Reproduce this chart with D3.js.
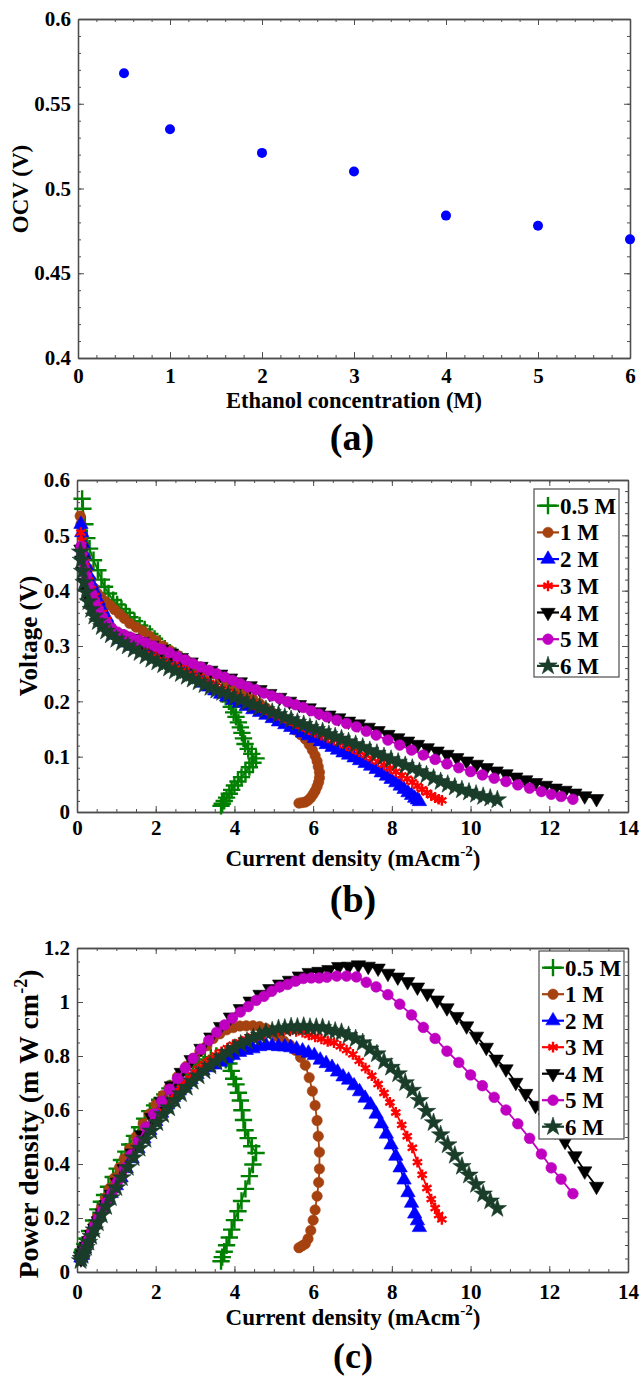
<!DOCTYPE html>
<html>
<head>
<meta charset="utf-8">
<script src="https://cdn.jsdelivr.net/npm/d3@7"></script>
<style>
  body { margin: 0; background: #fff; }
</style>
</head>
<body>
<script>
// ---------- data ----------

// (a) open circuit voltage vs ethanol concentration
var ethanolConc = [0.5, 1, 2, 3, 4, 5, 6];
var ocv = [0.568, 0.535, 0.521, 0.510, 0.484, 0.478, 0.470];

var seriesNames = ["0.5 M", "1 M", "2 M", "3 M", "4 M", "5 M", "6 M"];

// current density (mA cm-2), voltage (V), power density (mW cm-2) for every concentration
var current05 = [0.13,0.15,0.2,0.25,0.32,0.42,0.53,0.62,0.7,0.8,0.92,1.02,1.13,1.24,1.34,1.46,1.59,1.72,1.85,1.97,2.1,2.23,2.36,2.5,2.65,2.8,2.95,3.1,3.25,3.4,3.54,3.68,3.78,3.86,3.92,3.98,4.04,4.1,4.15,4.19,4.23,4.27,4.35,4.44,4.55,4.47,4.38,4.28,4.18,4.09,4.0,3.93,3.87,3.8,3.74,3.69,3.66];
var voltage05 = [0.566,0.548,0.52,0.495,0.476,0.455,0.437,0.42,0.407,0.395,0.383,0.375,0.367,0.36,0.352,0.345,0.337,0.33,0.322,0.313,0.304,0.295,0.288,0.282,0.275,0.267,0.259,0.25,0.242,0.234,0.226,0.216,0.208,0.2,0.19,0.18,0.172,0.162,0.153,0.143,0.133,0.123,0.114,0.105,0.097,0.089,0.081,0.072,0.063,0.055,0.048,0.04,0.033,0.026,0.02,0.015,0.011];
var power05 = [0.074,0.082,0.104,0.124,0.152,0.191,0.232,0.26,0.285,0.316,0.352,0.383,0.415,0.446,0.472,0.504,0.536,0.568,0.596,0.617,0.638,0.658,0.68,0.705,0.729,0.748,0.764,0.775,0.787,0.796,0.8,0.795,0.786,0.772,0.745,0.716,0.695,0.664,0.635,0.599,0.563,0.525,0.496,0.466,0.441,0.398,0.355,0.308,0.263,0.225,0.192,0.157,0.128,0.099,0.075,0.055,0.04];

var current1 = [0.08,0.1,0.13,0.17,0.22,0.28,0.35,0.43,0.52,0.62,0.72,0.83,0.95,1.08,1.2,1.34,1.5,1.68,1.84,2.0,2.18,2.36,2.56,2.78,2.95,3.12,3.3,3.46,3.63,3.8,3.97,4.14,4.3,4.47,4.64,4.8,4.95,5.1,5.25,5.4,5.55,5.68,5.8,5.9,5.98,6.05,6.1,6.13,6.16,6.16,6.14,6.1,6.05,6.0,5.94,5.87,5.8,5.72,5.64];
var voltage1 = [0.535,0.52,0.5,0.48,0.46,0.44,0.42,0.405,0.395,0.387,0.38,0.374,0.366,0.358,0.35,0.341,0.334,0.327,0.318,0.31,0.3,0.292,0.283,0.274,0.268,0.262,0.254,0.25,0.243,0.236,0.228,0.22,0.212,0.204,0.196,0.188,0.18,0.171,0.163,0.156,0.148,0.14,0.132,0.122,0.112,0.102,0.092,0.082,0.072,0.062,0.054,0.046,0.038,0.032,0.026,0.021,0.018,0.017,0.016];
var power1 = [0.043,0.052,0.065,0.082,0.101,0.123,0.147,0.174,0.205,0.24,0.274,0.31,0.348,0.387,0.42,0.457,0.501,0.549,0.585,0.62,0.654,0.689,0.724,0.762,0.791,0.817,0.838,0.865,0.882,0.897,0.905,0.911,0.912,0.912,0.909,0.902,0.891,0.872,0.856,0.842,0.821,0.795,0.766,0.72,0.67,0.617,0.561,0.503,0.444,0.382,0.332,0.281,0.23,0.192,0.154,0.123,0.104,0.097,0.09];

var current2 = [0.1,0.12,0.15,0.19,0.24,0.3,0.37,0.45,0.54,0.64,0.75,0.87,1.0,1.12,1.25,1.4,1.55,1.7,1.85,2.0,2.15,2.3,2.45,2.6,2.75,2.9,3.05,3.2,3.35,3.5,3.65,3.8,3.97,4.13,4.3,4.47,4.64,4.8,4.96,5.12,5.28,5.43,5.58,5.73,5.88,6.03,6.18,6.33,6.48,6.62,6.76,6.9,7.04,7.18,7.32,7.46,7.6,7.73,7.86,7.98,8.1,8.21,8.31,8.41,8.5,8.58,8.65,8.7];
var voltage2 = [0.52,0.505,0.485,0.465,0.445,0.428,0.412,0.398,0.382,0.366,0.352,0.335,0.32,0.312,0.306,0.3,0.295,0.29,0.284,0.279,0.274,0.269,0.264,0.258,0.252,0.246,0.24,0.233,0.226,0.219,0.213,0.208,0.202,0.197,0.191,0.185,0.18,0.175,0.169,0.163,0.158,0.153,0.148,0.143,0.138,0.133,0.127,0.122,0.117,0.112,0.107,0.103,0.098,0.093,0.088,0.083,0.077,0.071,0.065,0.059,0.053,0.047,0.041,0.035,0.03,0.025,0.022,0.019];
var power2 = [0.052,0.061,0.073,0.088,0.107,0.128,0.152,0.179,0.206,0.234,0.264,0.291,0.32,0.349,0.383,0.42,0.457,0.493,0.525,0.558,0.589,0.619,0.647,0.671,0.693,0.713,0.732,0.746,0.757,0.767,0.777,0.79,0.802,0.814,0.821,0.827,0.835,0.84,0.838,0.835,0.834,0.831,0.826,0.819,0.811,0.802,0.785,0.772,0.758,0.741,0.723,0.711,0.69,0.668,0.644,0.619,0.585,0.549,0.511,0.471,0.429,0.386,0.341,0.294,0.255,0.215,0.19,0.165];

var current3 = [0.1,0.12,0.15,0.19,0.24,0.3,0.37,0.45,0.54,0.64,0.75,0.87,1.0,1.13,1.27,1.42,1.57,1.72,1.87,2.02,2.17,2.32,2.47,2.62,2.77,2.92,3.07,3.22,3.37,3.52,3.67,3.82,3.97,4.13,4.29,4.45,4.61,4.77,4.93,5.09,5.25,5.41,5.57,5.73,5.89,6.05,6.21,6.37,6.53,6.69,6.85,7.01,7.17,7.33,7.49,7.65,7.8,7.95,8.1,8.25,8.39,8.52,8.65,8.77,8.89,9.0,9.1,9.19,9.27];
var voltage3 = [0.505,0.49,0.47,0.452,0.435,0.418,0.403,0.39,0.375,0.36,0.347,0.333,0.32,0.313,0.307,0.301,0.296,0.291,0.286,0.281,0.276,0.271,0.266,0.261,0.256,0.25,0.245,0.239,0.233,0.228,0.222,0.217,0.212,0.206,0.201,0.196,0.19,0.185,0.18,0.175,0.17,0.165,0.16,0.155,0.149,0.144,0.139,0.134,0.13,0.125,0.12,0.115,0.109,0.103,0.097,0.091,0.085,0.079,0.073,0.066,0.06,0.054,0.047,0.041,0.035,0.03,0.026,0.023,0.021];
var power3 = [0.051,0.059,0.071,0.086,0.104,0.125,0.149,0.176,0.203,0.23,0.26,0.29,0.32,0.354,0.39,0.427,0.465,0.501,0.535,0.568,0.599,0.629,0.657,0.684,0.709,0.73,0.752,0.77,0.785,0.803,0.815,0.829,0.842,0.851,0.862,0.872,0.876,0.882,0.887,0.891,0.893,0.893,0.891,0.888,0.878,0.871,0.863,0.854,0.849,0.836,0.822,0.806,0.782,0.755,0.727,0.696,0.663,0.628,0.591,0.545,0.503,0.46,0.407,0.36,0.311,0.27,0.237,0.211,0.195];

var current4 = [0.1,0.12,0.15,0.19,0.24,0.3,0.37,0.45,0.54,0.64,0.75,0.88,1.03,1.2,1.4,1.65,1.9,2.15,2.4,2.65,2.9,3.15,3.4,3.65,3.9,4.15,4.4,4.65,4.9,5.15,5.4,5.65,5.9,6.15,6.4,6.65,6.9,7.15,7.4,7.65,7.9,8.15,8.4,8.65,8.9,9.15,9.4,9.65,9.9,10.15,10.4,10.65,10.9,11.15,11.4,11.65,11.9,12.15,12.4,12.65,12.9,13.2];
var voltage4 = [0.475,0.455,0.435,0.415,0.398,0.385,0.372,0.36,0.35,0.34,0.332,0.326,0.322,0.318,0.314,0.308,0.301,0.294,0.287,0.279,0.271,0.263,0.256,0.249,0.242,0.235,0.228,0.221,0.214,0.207,0.2,0.194,0.188,0.181,0.175,0.17,0.164,0.159,0.153,0.147,0.14,0.134,0.128,0.122,0.116,0.11,0.104,0.098,0.092,0.086,0.08,0.074,0.069,0.063,0.058,0.053,0.048,0.043,0.039,0.034,0.029,0.024];
var power4 = [0.048,0.055,0.065,0.079,0.096,0.116,0.138,0.162,0.189,0.218,0.249,0.287,0.332,0.382,0.44,0.508,0.572,0.632,0.689,0.739,0.786,0.828,0.87,0.909,0.944,0.975,1.003,1.028,1.049,1.066,1.08,1.096,1.109,1.113,1.12,1.131,1.132,1.137,1.132,1.125,1.106,1.092,1.075,1.055,1.032,1.007,0.978,0.946,0.911,0.873,0.832,0.788,0.752,0.702,0.661,0.617,0.571,0.522,0.484,0.43,0.374,0.317];

var current5 = [0.1,0.12,0.15,0.19,0.24,0.3,0.37,0.45,0.54,0.64,0.75,0.88,1.03,1.2,1.38,1.56,1.75,1.95,2.15,2.35,2.55,2.75,2.95,3.15,3.35,3.55,3.75,3.95,4.15,4.35,4.55,4.75,4.95,5.15,5.35,5.55,5.75,5.95,6.15,6.35,6.6,6.85,7.1,7.35,7.6,7.9,8.2,8.5,8.8,9.1,9.4,9.7,10.0,10.3,10.6,10.9,11.2,11.5,11.8,12.05,12.3,12.6];
var voltage5 = [0.48,0.468,0.455,0.44,0.425,0.41,0.395,0.38,0.366,0.353,0.342,0.332,0.325,0.32,0.315,0.311,0.306,0.3,0.294,0.288,0.281,0.275,0.268,0.262,0.256,0.25,0.244,0.238,0.232,0.226,0.221,0.215,0.21,0.205,0.199,0.194,0.189,0.183,0.177,0.172,0.166,0.16,0.154,0.146,0.139,0.13,0.121,0.112,0.103,0.095,0.087,0.08,0.073,0.067,0.061,0.055,0.049,0.043,0.037,0.032,0.028,0.023];
var power5 = [0.048,0.056,0.068,0.084,0.102,0.123,0.146,0.171,0.198,0.226,0.257,0.292,0.335,0.384,0.435,0.485,0.536,0.585,0.632,0.677,0.717,0.756,0.791,0.825,0.858,0.888,0.915,0.94,0.963,0.983,1.006,1.021,1.04,1.056,1.065,1.077,1.087,1.089,1.089,1.092,1.096,1.096,1.093,1.073,1.056,1.027,0.992,0.952,0.906,0.865,0.818,0.776,0.73,0.69,0.647,0.6,0.549,0.495,0.437,0.386,0.344,0.29];

var current6 = [0.09,0.11,0.14,0.18,0.23,0.29,0.36,0.44,0.53,0.63,0.74,0.86,1.0,1.14,1.29,1.44,1.59,1.74,1.89,2.04,2.19,2.34,2.49,2.64,2.79,2.94,3.09,3.24,3.39,3.54,3.69,3.84,4.0,4.16,4.32,4.48,4.64,4.8,4.96,5.12,5.28,5.44,5.6,5.76,5.92,6.08,6.24,6.4,6.56,6.72,6.9,7.08,7.26,7.44,7.62,7.8,7.98,8.16,8.34,8.52,8.7,8.88,9.06,9.24,9.42,9.6,9.78,9.96,10.14,10.32,10.5,10.68];
var voltage6 = [0.47,0.455,0.435,0.415,0.397,0.38,0.366,0.354,0.344,0.335,0.327,0.32,0.312,0.306,0.3,0.294,0.288,0.282,0.276,0.271,0.266,0.26,0.255,0.25,0.245,0.24,0.235,0.23,0.225,0.22,0.216,0.212,0.207,0.203,0.198,0.194,0.189,0.185,0.18,0.176,0.171,0.167,0.162,0.158,0.153,0.149,0.145,0.14,0.136,0.132,0.127,0.122,0.117,0.111,0.106,0.1,0.095,0.09,0.084,0.079,0.073,0.067,0.061,0.055,0.05,0.045,0.04,0.036,0.032,0.028,0.025,0.022];
var power6 = [0.042,0.05,0.061,0.075,0.091,0.11,0.132,0.156,0.182,0.211,0.242,0.275,0.312,0.349,0.387,0.423,0.458,0.491,0.522,0.553,0.583,0.608,0.635,0.66,0.684,0.706,0.726,0.745,0.763,0.779,0.797,0.814,0.828,0.844,0.855,0.869,0.877,0.888,0.893,0.901,0.903,0.908,0.907,0.91,0.906,0.906,0.905,0.896,0.892,0.887,0.876,0.864,0.849,0.826,0.808,0.78,0.758,0.734,0.701,0.673,0.635,0.595,0.553,0.508,0.471,0.432,0.391,0.359,0.324,0.289,0.263,0.235];

// ---------- styles ----------
var fontFamily = '"Liberation Serif", "Times New Roman", Times, serif';
var frameColor = "#4d4d4d";

var seriesColors = ["#008000", "#a5420f", "#0000ff", "#ff0000", "#000000", "#c000c0", "#1a3d2a"];
var seriesSymbols = [d3.symbolPlus, d3.symbolCircle, d3.symbolTriangle, d3.symbolAsterisk, d3.symbolTriangle, d3.symbolCircle, d3.symbolStar];
var symbolSizes = [100, 85, 90, 80, 90, 90, 105];
var symbolRotation = [0, 0, 0, 0, 180, 0, 0];
var strokeSymbol = [true, false, false, true, false, false, false];

// build the series table used by panels (b) and (c)
var currents = [current05, current1, current2, current3, current4, current5, current6];
var voltages = [voltage05, voltage1, voltage2, voltage3, voltage4, voltage5, voltage6];
var powers = [power05, power1, power2, power3, power4, power5, power6];

var series = seriesNames.map(function(name, i) {
  return {
    name: name,
    color: seriesColors[i],
    symbol: seriesSymbols[i],
    size: symbolSizes[i],
    rotate: symbolRotation[i],
    stroked: strokeSymbol[i],
    vi: currents[i].map(function(c, k) { return [c, voltages[i][k]]; }),
    pi: currents[i].map(function(c, k) { return [c, powers[i][k]]; })
  };
});

var svg = d3.select("body").append("svg")
  .attr("width", 641)
  .attr("height", 1382)
  .style("font-family", fontFamily)
  .style("font-weight", "bold");

// styling for axis groups
function styleAxis(g) {
  g.attr("font-family", fontFamily)
    .attr("font-size", 21)
    .attr("font-weight", "bold");
  g.selectAll("path.domain").attr("stroke", frameColor).attr("stroke-width", 1.3);
  g.selectAll(".tick line").attr("stroke", frameColor).attr("stroke-width", 1);
  g.selectAll(".tick text").attr("fill", "#000");
}

// boxed frame with inward ticks on all four sides
function drawFrame(p) {
  var x = d3.scaleLinear().domain(p.xDomain).range([p.left, p.right]);
  var y = d3.scaleLinear().domain(p.yDomain).range([p.bottom, p.top]);
  var g = svg.append("g");

  // minor ticks
  g.append("g").attr("transform", `translate(0,${p.bottom})`)
    .call(d3.axisBottom(x).tickValues(p.xMinor).tickSizeInner(-3).tickSizeOuter(0).tickFormat(""))
    .call(styleAxis);
  g.append("g").attr("transform", `translate(0,${p.top})`)
    .call(d3.axisTop(x).tickValues(p.xMinor).tickSizeInner(-3).tickSizeOuter(0).tickFormat(""))
    .call(styleAxis);
  g.append("g").attr("transform", `translate(${p.left},0)`)
    .call(d3.axisLeft(y).tickValues(p.yMinor).tickSizeInner(-3).tickSizeOuter(0).tickFormat(""))
    .call(styleAxis);
  g.append("g").attr("transform", `translate(${p.right},0)`)
    .call(d3.axisRight(y).tickValues(p.yMinor).tickSizeInner(-3).tickSizeOuter(0).tickFormat(""))
    .call(styleAxis);

  // major ticks + labels
  g.append("g").attr("transform", `translate(0,${p.bottom})`)
    .call(d3.axisBottom(x).tickValues(p.xMajor).tickSizeInner(-6).tickSizeOuter(0).tickPadding(p.xPad).tickFormat(String))
    .call(styleAxis);
  g.append("g").attr("transform", `translate(0,${p.top})`)
    .call(d3.axisTop(x).tickValues(p.xMajor).tickSizeInner(-6).tickSizeOuter(0).tickFormat(""))
    .call(styleAxis);
  g.append("g").attr("transform", `translate(${p.left},0)`)
    .call(d3.axisLeft(y).tickValues(p.yMajor).tickSizeInner(-6).tickSizeOuter(0).tickPadding(7).tickFormat(String))
    .call(styleAxis);
  g.append("g").attr("transform", `translate(${p.right},0)`)
    .call(d3.axisRight(y).tickValues(p.yMajor).tickSizeInner(-6).tickSizeOuter(0).tickFormat(""))
    .call(styleAxis);

  return { x: x, y: y };
}

function symbolPath(s) {
  return d3.symbol().type(s.symbol).size(s.size)();
}

function drawSeries(sc, key) {
  series.forEach(function(s) {
    var pts = s[key];
    var g = svg.append("g");
    g.append("path")
      .datum(pts)
      .attr("fill", "none")
      .attr("stroke", s.color)
      .attr("stroke-width", 1.8)
      .attr("d", d3.line().x(function(d) { return sc.x(d[0]); }).y(function(d) { return sc.y(d[1]); }));
    g.selectAll("path.mark").data(pts).enter().append("path")
      .attr("class", "mark")
      .attr("d", symbolPath(s))
      .attr("transform", function(d) { return `translate(${sc.x(d[0])},${sc.y(d[1])}) rotate(${s.rotate})`; })
      .attr("fill", s.stroked ? "none" : s.color)
      .attr("stroke", s.color)
      .attr("stroke-width", s.stroked ? 2.4 : 0.6);
  });
}

function drawLegend(x0, y0, w, h, rowStart, rowStep) {
  var g = svg.append("g");
  g.append("rect")
    .attr("x", x0).attr("y", y0).attr("width", w).attr("height", h)
    .attr("fill", "#fff").attr("stroke", frameColor).attr("stroke-width", 1.2);
  series.forEach(function(s, i) {
    var cy = rowStart + i * rowStep;
    g.append("line")
      .attr("x1", x0 + 3).attr("x2", x0 + 25).attr("y1", cy).attr("y2", cy)
      .attr("stroke", s.color).attr("stroke-width", 2.2);
    g.append("path")
      .attr("d", symbolPath(s))
      .attr("transform", `translate(${x0 + 14},${cy}) rotate(${s.rotate})`)
      .attr("fill", s.stroked ? "none" : s.color)
      .attr("stroke", s.color)
      .attr("stroke-width", s.stroked ? 2.4 : 0.6);
    g.append("text")
      .attr("x", x0 + 26).attr("y", cy + 8)
      .attr("font-size", 23)
      .text(s.name);
  });
}

function xTitleWithSup(x, y, main, sup) {
  var t = svg.append("text").attr("x", x).attr("y", y)
    .attr("text-anchor", "middle").attr("font-size", 23);
  t.append("tspan").text(main);
  t.append("tspan").attr("dy", -10).attr("font-size", 15).text(sup);
  t.append("tspan").attr("dy", 10).text(")");
}

// ---------- panel (a) ----------
var scA = drawFrame({
  left: 78, right: 630, top: 19, bottom: 358, xPad: 10,
  xDomain: [0, 6], yDomain: [0.4, 0.6],
  xMajor: d3.range(0, 7, 1), xMinor: d3.range(0, 6.01, 0.2),
  yMajor: [0.4, 0.45, 0.5, 0.55, 0.6], yMinor: d3.range(0.4, 0.6001, 0.01)
});

svg.append("g").selectAll("circle")
  .data(ethanolConc)
  .enter().append("circle")
  .attr("cx", function(d) { return scA.x(d); })
  .attr("cy", function(d, i) { return scA.y(ocv[i]); })
  .attr("r", 5)
  .attr("fill", "#0000ff");

svg.append("text").attr("x", 354).attr("y", 408).attr("text-anchor", "middle")
  .attr("font-size", 22.5).text("Ethanol concentration (M)");
svg.append("text").attr("transform", "translate(28,189) rotate(-90)").attr("text-anchor", "middle")
  .attr("font-size", 23).text("OCV (V)");
svg.append("text").attr("x", 352).attr("y", 450).attr("text-anchor", "middle")
  .attr("font-size", 38).text("(a)");

// ---------- panel (b) ----------
var scB = drawFrame({
  left: 77, right: 628, top: 480, bottom: 812, xPad: 8,
  xDomain: [0, 14], yDomain: [0, 0.6],
  xMajor: d3.range(0, 15, 2), xMinor: d3.range(0, 14.01, 0.5),
  yMajor: [0, 0.1, 0.2, 0.3, 0.4, 0.5, 0.6], yMinor: d3.range(0, 0.6001, 0.02)
});
drawSeries(scB, "vi");
drawLegend(534, 489, 85, 188, 505.7, 26.7);

xTitleWithSup(353, 866, "Current density (mAcm", "-2");
svg.append("text").attr("transform", "translate(37,636) rotate(-90)").attr("text-anchor", "middle")
  .attr("font-size", 25).text("Voltage (V)");
svg.append("text").attr("x", 353).attr("y", 912).attr("text-anchor", "middle")
  .attr("font-size", 38).text("(b)");

// ---------- panel (c) ----------
var scC = drawFrame({
  left: 77, right: 628, top: 948, bottom: 1272, xPad: 12,
  xDomain: [0, 14], yDomain: [0, 1.2],
  xMajor: d3.range(0, 15, 2), xMinor: d3.range(0, 14.01, 0.5),
  yMajor: [0, 0.2, 0.4, 0.6, 0.8, 1, 1.2], yMinor: d3.range(0, 1.2001, 0.05)
});
drawSeries(scC, "pi");
drawLegend(539, 951, 85, 188, 967.7, 26.5);

xTitleWithSup(353, 1325, "Current density (mAcm", "-2");
var yt = svg.append("text").attr("transform", "translate(38,1124) rotate(-90)").attr("text-anchor", "middle")
  .attr("font-size", 28);
yt.append("tspan").text("Power density (m W cm");
yt.append("tspan").attr("dy", -11).attr("font-size", 18).text("-2");
yt.append("tspan").attr("dy", 11).text(")");
svg.append("text").attr("x", 353).attr("y", 1368).attr("text-anchor", "middle")
  .attr("font-size", 36).text("(c)");
</script>
</body>
</html>
